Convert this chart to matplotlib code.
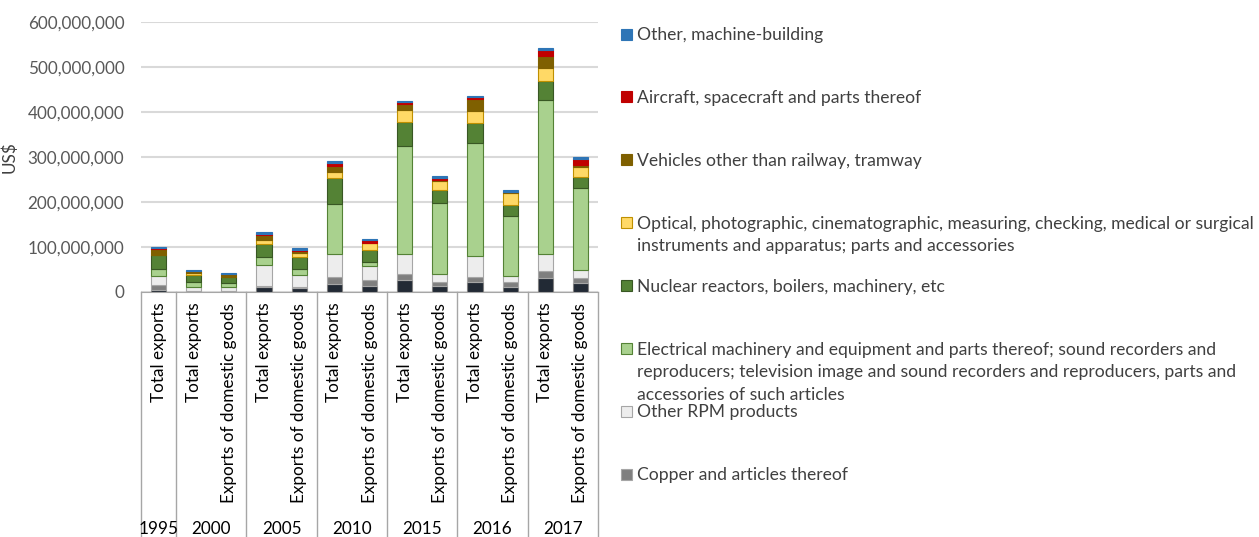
import matplotlib
matplotlib.use("Agg")
import matplotlib.pyplot as plt
import matplotlib.transforms as mtransforms
from matplotlib.patches import Rectangle
from matplotlib.ticker import FuncFormatter

plt.rcParams['font.family'] = ['Lato', 'DejaVu Sans']

# bars in order, grouped by year
years = ['1995', '2000', '2005', '2010', '2015', '2016', '2017']
year_bars = [1, 2, 2, 2, 2, 2, 2]
bar_labels = ['Total exports',
              'Total exports', 'Exports of domestic goods',
              'Total exports', 'Exports of domestic goods',
              'Total exports', 'Exports of domestic goods',
              'Total exports', 'Exports of domestic goods',
              'Total exports', 'Exports of domestic goods',
              'Total exports', 'Exports of domestic goods']

# values in million US$, bottom segment first
base_navy = [3, 0.5, 0.5, 9.7, 7.5, 16.3, 13.3, 26, 12.6, 22.3, 11, 29.7, 18.5]
copper = [11, 2, 2, 3, 2.2, 17, 12.6, 13.4, 9.6, 11, 9.6, 16.3, 12.6]
other_rpm = [22, 9, 7.5, 47, 27.6, 50, 31, 44.5, 17, 46.8, 14.8, 37, 17]
electrical = [15, 11, 9, 17, 12.6, 111, 9.6, 241, 158, 250, 133.6, 343.6, 183.3]
nuclear = [30, 15, 13.4, 30.5, 27, 58.5, 26, 52, 28, 44.5, 23.7, 43, 24.5]
optical = [1, 3, 1, 8, 9, 13.3, 14.8, 27.5, 20.7, 27.5, 26, 27.5, 22.3]
vehicles = [14, 4.5, 5, 10.4, 3.7, 13.3, 2, 13.4, 1.5, 26, 3.7, 27.5, 3.7]
aircraft = [0.5, 1, 0.3, 3.7, 3.7, 7.4, 5.2, 4.5, 5.2, 4.5, 0.5, 13.4, 12.6]
other_machine = [3, 3, 2, 3.7, 3.7, 3, 3.7, 3, 3.7, 3, 3.7, 3.7, 4.5]

series = [
    ('', base_navy, '#222A35', '#7F7F7F'),
    ('Copper and articles thereof', copper, '#7F7F7F', '#A6A6A6'),
    ('Other RPM products', other_rpm, '#EDEDED', '#A6A6A6'),
    ('Electrical machinery and equipment and parts thereof; sound recorders and\n'
     'reproducers; television image and sound recorders and reproducers, parts and\n'
     'accessories of such articles', electrical, '#A9D18E', '#548235'),
    ('Nuclear reactors, boilers, machinery, etc', nuclear, '#548235', '#385723'),
    ('Optical, photographic, cinematographic, measuring, checking, medical or surgical\n'
     'instruments and apparatus; parts and accessories', optical, '#FFD966', '#BF9000'),
    ('Vehicles other than railway, tramway', vehicles, '#7F6000', '#7F6000'),
    ('Aircraft, spacecraft and parts thereof', aircraft, '#C00000', '#C00000'),
    ('Other, machine-building', other_machine, '#2E75B6', '#2E75B6'),
]

W, H = 1259, 537
fig = plt.figure(figsize=(W / 100, H / 100), dpi=100)
ax = fig.add_axes([141 / W, 1 - 291.7 / H, 457 / W, 269.7 / H])

x = list(range(len(bar_labels)))
bottom = [0.0] * len(x)
for name, vals, col, edge in series:
    v = [a * 1e6 for a in vals]
    ax.bar(x, v, 0.43, bottom=bottom, color=col, edgecolor=edge, linewidth=0.8, zorder=3)
    bottom = [b + a for b, a in zip(bottom, v)]

ax.set_xlim(-0.5, len(x) - 0.5)
ax.set_ylim(0, 600e6)
ax.set_yticks([i * 100e6 for i in range(7)])
ax.yaxis.set_major_formatter(FuncFormatter(lambda v, p: f'{int(v):,}'))
ax.grid(axis='y', color='#D9D9D9', linewidth=1.5, zorder=0)
for s in ['top', 'right', 'left']:
    ax.spines[s].set_visible(False)
ax.spines['bottom'].set_color('#A6A6A6')
ax.tick_params(axis='y', length=0, pad=12, labelsize=12.3, labelcolor='#595959')
ax.tick_params(axis='x', length=0, pad=8, labelsize=12.3, labelcolor='#000000')
ax.set_xticks(x)
ax.set_xticklabels(bar_labels, rotation=90, va='top', ha='center')
ax.set_ylabel('US$', fontsize=12.3, color='#404040')
ax.yaxis.set_label_coords((18 - 141) / 457, 0.5)

# group separators and year labels
trans = ax.get_xaxis_transform()
edges = [-0.5]
for n in year_bars:
    edges.append(edges[-1] + n)
for e in edges:
    ax.plot([e, e], [0, -1.2], transform=trans, color='#A6A6A6', linewidth=1, clip_on=False)
year_trans = mtransforms.blended_transform_factory(ax.transData, fig.transFigure)
for i, yr in enumerate(years):
    cx = (edges[i] + edges[i + 1]) / 2
    ax.text(cx, 1 - 529 / H, yr, transform=year_trans,
            ha='center', va='center', fontsize=12.3, color='#000000')

# legend, evenly spaced like the original
entries = [s for s in series[::-1] if s[0]]
for k, (name, vals, col, edge) in enumerate(entries):
    yc = 34 + k * 62.9
    fig.add_artist(Rectangle((621 / W, 1 - (yc + 5.5) / H), 11 / W, 11 / H,
                             facecolor=col, edgecolor=edge, linewidth=0.8, transform=fig.transFigure))
    fig.text(637 / W, 1 - (yc - 7) / H, name, ha='left', va='top', fontsize=12.6,
             color='#404040', linespacing=1.5)

fig.savefig('out.png', dpi=100)
